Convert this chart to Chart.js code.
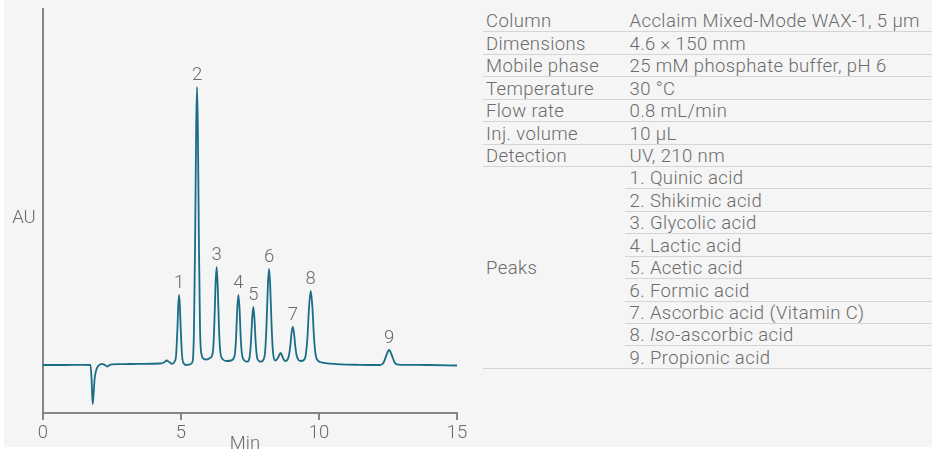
<!DOCTYPE html>
<html>
<head>
<meta charset="utf-8">
<script src="https://cdn.jsdelivr.net/npm/chart.js@4.4.1/dist/chart.umd.min.js"></script>
<style>
  html, body { margin: 0; padding: 0; background: #fff; }
  #panel { position: absolute; left: 4px; top: 0; width: 928px; height: 447px; background: #f5f5f5; }
  #chart { position: absolute; left: 0; top: 0; }
  #conditions {
    position: absolute; left: 482.5px; top: 9.9px; width: 449.5px;
    display: grid; grid-template-columns: 142.5px 1fr; grid-auto-rows: 22.45px;
    font: 300 18.5px Roboto, "Liberation Sans", sans-serif; letter-spacing: 0.4px; color: #6b6b6b;
  }
  #conditions div {
    box-sizing: border-box; border-bottom: 1px solid #d5d5d5;
    padding: 1.5px 0 0 3.5px; display: flex; align-items: center; white-space: nowrap;
  }
  #conditions div.val { padding-left: 4.5px; }
  #conditions div.group { grid-row: span 9; }
</style>
</head>
<body>
<div id="panel"></div>
<canvas id="chart" width="470" height="449"></canvas>
<div id="conditions"></div>

<script>
// run conditions
const conditionNames = ["Column", "Dimensions", "Mobile phase", "Temperature", "Flow rate", "Inj. volume", "Detection"];
const conditionValues = ["Acclaim Mixed-Mode WAX-1, 5 µm", "4.6 × 150 mm", "25 mM phosphate buffer, pH 6",
  "30 °C", "0.8 mL/min", "10 µL", "UV, 210 nm"];
const peakNames = ["Quinic acid", "Shikimic acid", "Glycolic acid", "Lactic acid", "Acetic acid",
  "Formic acid", "Ascorbic acid (Vitamin C)", "<i>Iso</i>-ascorbic acid", "Propionic acid"];

// peak apexes (min, mAU)
const peakNumbers = ["1", "2", "3", "4", "5", "6", "7", "8", "9"];
const peakTimes = [4.93, 5.58, 6.29, 7.08, 7.62, 8.19, 9.05, 9.70, 12.54];
const peakHeights = [7.0, 27.8, 9.8, 7.0, 5.8, 9.6, 3.8, 7.4, 1.5];

// detector trace
const traceTimes = [
  0.00, 0.80, 1.50, 1.72, 1.76, 1.80, 1.83, 1.87, 1.93, 2.00, 2.07, 2.13, 2.20, 2.27, 2.33, 2.40, 2.49,
  2.80, 3.50, 4.25, 4.38, 4.48, 4.57, 4.68, 4.77,
  4.82, 4.87, 4.90, 4.93, 4.96, 4.99, 5.04, 5.10, 5.20, 5.32,
  5.42, 5.47, 5.51, 5.55, 5.58, 5.61, 5.65, 5.69, 5.75, 5.83, 5.93, 6.05,
  6.15, 6.20, 6.25, 6.29, 6.33, 6.38, 6.43, 6.52, 6.66, 6.82,
  6.94, 6.99, 7.04, 7.08, 7.12, 7.17, 7.22, 7.30, 7.40,
  7.48, 7.53, 7.58, 7.62, 7.66, 7.71, 7.76, 7.83, 7.89,
  7.98, 8.05, 8.10, 8.15, 8.19, 8.23, 8.28, 8.33, 8.42,
  8.50, 8.56, 8.61, 8.66, 8.72, 8.79,
  8.86, 8.91, 8.96, 9.01, 9.05, 9.09, 9.14, 9.19, 9.26, 9.34,
  9.45, 9.52, 9.58, 9.64, 9.70, 9.76, 9.82, 9.88, 9.96, 10.04, 10.30, 10.80, 11.50, 12.20,
  12.28, 12.35, 12.44, 12.54, 12.64, 12.73, 12.82, 13.00, 14.00, 15.00
];
const traceAU = [
  0.00, 0.00, 0.02, 0.00, -1.4, -3.9, -3.0, -1.4, -0.5, -0.1, 0.05, 0.12, 0.06, -0.05, -0.15, -0.02, 0.07,
  0.08, 0.12, 0.15, 0.25, 0.45, 0.30, 0.12, 0.35,
  0.9, 3.6, 5.9, 7.0, 5.9, 3.6, 0.9, 0.15, 0.0, 0.05,
  0.35, 3.5, 12.0, 23.8, 27.8, 23.8, 12.0, 3.5, 1.0, 0.6, 0.55, 0.7,
  1.2, 3.4, 7.9, 9.8, 7.9, 3.4, 1.2, 0.55, 0.4, 0.45,
  0.9, 2.4, 5.7, 7.0, 5.7, 2.4, 0.9, 0.45, 0.33,
  0.7, 2.1, 4.7, 5.8, 4.7, 2.1, 0.7, 0.4, 0.33,
  0.5, 1.4, 4.1, 8.1, 9.6, 8.1, 4.1, 1.4, 0.45,
  0.65, 1.0, 1.2, 0.95, 0.55, 0.4,
  0.55, 0.95, 1.9, 3.3, 3.8, 3.3, 1.9, 0.95, 0.5, 0.4,
  0.5, 1.0, 2.7, 5.8, 7.4, 5.8, 2.7, 1.0, 0.45, 0.3, 0.17, 0.06, 0.02, 0.00,
  0.06, 0.3, 0.97, 1.5, 0.97, 0.3, 0.06, 0.02, 0.00, -0.05
];

const xTicks = [0, 5, 10, 15];

const textColor = "#6b6b6b";
const axisColor = "#858585";
const traceColor = "#1b6d85";
const font = "Roboto, 'Liberation Sans', sans-serif";

// table on the right
const conditions = document.getElementById("conditions");
conditionNames.forEach((name, i) => {
  conditions.innerHTML += `<div><span>${name}</span></div><div class="val"><span>${conditionValues[i]}</span></div>`;
});
conditions.innerHTML += `<div class="group"><span>Peaks</span></div>`;
peakNames.forEach((name, i) => {
  conditions.innerHTML += `<div class="val"><span>${i + 1}. ${name}</span></div>`;
});

// peak numbers and axis names
const labels = {
  id: "labels",
  afterDatasetsDraw(chart) {
    const { ctx, scales: { x, y } } = chart;
    ctx.save();
    ctx.font = "300 18.5px " + font;
    ctx.fillStyle = textColor;
    ctx.textAlign = "center";
    ctx.textBaseline = "alphabetic";
    peakNumbers.forEach((n, i) => {
      ctx.fillText(n, x.getPixelForValue(peakTimes[i]), y.getPixelForValue(peakHeights[i]) - 7);
    });
    ctx.fillText("AU", 24, 223);
    ctx.fillText("Min", 245, 449);
    ctx.restore();
  }
};

new Chart(document.getElementById("chart"), {
  type: "line",
  data: {
    datasets: [{
      data: traceTimes.map((t, i) => ({ x: t, y: traceAU[i] })),
      borderColor: traceColor,
      borderWidth: 1.8,
      pointRadius: 0,
      cubicInterpolationMode: "monotone",
      fill: false
    }]
  },
  options: {
    responsive: false,
    animation: false,
    events: [],
    layout: { padding: { left: 43, right: 13, top: 9, bottom: 0 } },
    plugins: { legend: { display: false }, tooltip: { enabled: false } },
    scales: {
      x: {
        type: "linear",
        min: 0,
        max: 15,
        afterFit: s => { s.height = 36; },
        afterBuildTicks: s => { s.ticks = xTicks.map(v => ({ value: v })); },
        ticks: { color: textColor, font: { family: font, size: 18.5, weight: 300 }, padding: 2, maxRotation: 0 },
        grid: { drawOnChartArea: false, drawTicks: true, tickLength: 7, color: axisColor, lineWidth: 2 },
        border: { color: axisColor, width: 2 }
      },
      y: {
        min: -4.8,
        max: 35.6,
        afterFit: s => { s.width = 0; },
        ticks: { display: false },
        grid: { display: false },
        border: { color: axisColor, width: 2 }
      }
    }
  },
  plugins: [labels]
});
</script>
</body>
</html>
